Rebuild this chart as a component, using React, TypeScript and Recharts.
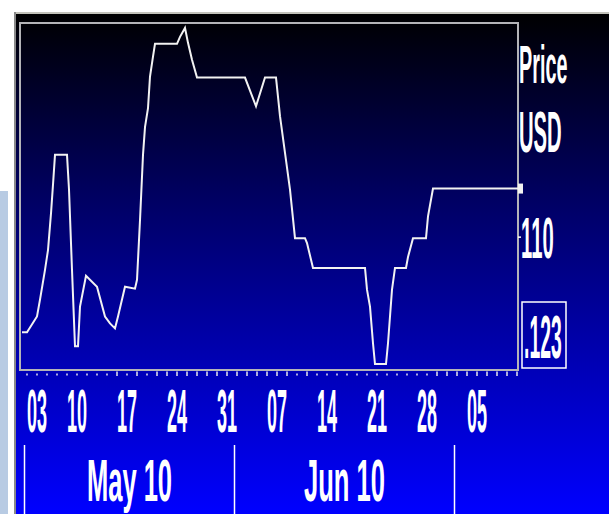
import { LineChart, Line, XAxis, YAxis, ReferenceArea } from 'recharts';

// trading-session index (0 = Mon 03 May) and price
const session = [
  -0.5, 0, 1.0, 1.3, 1.8, 2.1, 2.4, 2.6, 2.8, 4.0, 4.2, 4.5, 4.8, 5.1, 5.3, 5.9, 7.0, 7.8, 8.3, 8.8,
  9.1, 9.8, 10.8, 11.0, 11.3, 11.6, 11.8, 12.1, 12.3, 12.6, 12.8, 15.0, 15.3, 15.8, 16.1, 16.5, 17.0,
  21.8, 22.9, 23.8, 24.9, 25.3, 25.8, 26.3, 26.8, 27.8, 28.0, 28.6, 33.8, 34.0, 34.3, 34.6, 34.8, 35.9,
  36.1, 36.5, 36.8, 37.9, 38.1, 38.6, 39.9, 40.1, 40.6, 49.1,
];
const price = [
  100.4, 100.4, 102.0, 103.7, 106.7, 108.7, 112.4, 115.3, 118.3, 118.3, 114.8, 106.7, 99.0, 99.0, 103.0,
  106.1, 105.0, 102.0, 101.3, 100.8, 102.0, 105.0, 104.8, 105.7, 111.7, 118.3, 121.1, 123.0, 126.2, 128.2,
  129.5, 129.5, 130.2, 131.1, 129.6, 127.9, 126.1, 126.1, 123.2, 126.1, 126.1, 122.2, 118.5, 114.8, 109.9,
  109.9, 109.4, 106.9, 106.9, 104.7, 103.0, 99.3, 97.2, 97.2, 99.3, 104.7, 106.9, 106.9, 108.0, 109.9,
  109.9, 112.1, 114.9, 114.9,
];

const weekLabels = ['03', '10', '17', '24', '31', '07', '14', '21', '28', '05'];
const weekStarts = [0, 5, 10, 15, 20, 25, 30, 35, 40, 45];
const monthLabels = ['May 10', 'Jun 10'];
const monthStarts = [0, 21, 43];
// d = dot mark, b = bar mark, one per session
const dayMarks = 'dddddddddbdbdbbbbbbbbbbbbbbdbddddddddddddbbbbbbbbb';

const priceTicks = [110];
const priceCaption = ['Price', 'USD'];
const lastPriceLabel = '.123';

const xDomain = [-0.7, 49.1];
const yDomain = [96.6, 131.6];

const data = session.map((t, i) => ({ t, price: price[i] }));
const separators = monthStarts.map((m) => m - 0.25);
const monthCenters = monthLabels.map((_, i) => (separators[i] + separators[i + 1]) / 2);
const dayTicks = Array.from(dayMarks).map((_, i) => i);
const xTicks = [...dayTicks, ...separators, ...monthCenters].sort((a, b) => a - b);

const FONT = "'Liberation Sans', Arial, sans-serif";

function Stretch({ x, y, sx, sy, anchor = 'middle', children }: any) {
  return (
    <text
      transform={`translate(${x},${y}) scale(${sx},${sy})`}
      textAnchor={anchor}
      fill="#ffffff"
      fontFamily={FONT}
      fontSize={22}
      fontWeight={700}
    >
      {children}
    </text>
  );
}

function XTick({ x, y, payload }: any) {
  const v = payload.value;
  const s = separators.indexOf(v);
  if (s >= 0) {
    return <line x1={x} x2={x} y1={y + 75} y2={y + 150} stroke="#ffffff" strokeWidth={1.5} />;
  }
  const m = monthCenters.indexOf(v);
  if (m >= 0) {
    return (
      <Stretch x={x} y={y + 131} sx={1.16} sy={2.7}>
        {monthLabels[m]}
      </Stretch>
    );
  }
  const bar = dayMarks[v] === 'b';
  const w = weekStarts.indexOf(v);
  return (
    <g>
      <rect x={x - 0.75} y={y + (bar ? 1.5 : 3.5)} width={1.5} height={bar ? 4.5 : 2} fill="#e6e6f0" />
      {w >= 0 && (
        <Stretch x={x} y={y + 62} sx={0.82} sy={2.77} anchor={w === 0 ? 'start' : 'middle'}>
          {weekLabels[w]}
        </Stretch>
      )}
    </g>
  );
}

function YTick({ x, y, payload }: any) {
  return (
    <g>
      <line x1={x} x2={x + 3} y1={y} y2={y} stroke="#ffffff" strokeWidth={1.5} />
      <Stretch x={x + 3} y={y + 21} sx={0.92} sy={2.58} anchor="start">
        {payload.value}
      </Stretch>
    </g>
  );
}

function PriceCaption(props: any) {
  const vb = props.viewBox || { x: 504, y: 11 };
  const { x, y } = vb;
  return (
    <g>
      <Stretch x={x + 1} y={y + 60} sx={0.9} sy={2.4} anchor="start">
        {priceCaption[0]}
      </Stretch>
      <Stretch x={x + 1} y={y + 129} sx={0.92} sy={2.65} anchor="start">
        {priceCaption[1]}
      </Stretch>
      <rect x={x + 4} y={y + 279} width={44} height={66} fill="none" stroke="#ffffff" strokeWidth={1.5} />
      <Stretch x={x + 6} y={y + 335} sx={0.88} sy={2.8} anchor="start">
        {lastPriceLabel}
      </Stretch>
    </g>
  );
}

export default function App() {
  return (
    <div style={{ position: 'absolute', left: 0, top: 0, width: 609, height: 514, background: '#ffffff', overflow: 'hidden' }}>
      <div style={{ position: 'absolute', left: 0, top: 191, width: 8, height: 323, background: '#b8cbe3' }} />
      <div
        style={{
          position: 'absolute',
          left: 14,
          top: 12,
          width: 595,
          height: 502,
          background: 'linear-gradient(to bottom, #000000 0%, #00006a 40%, #0000ff 100%)',
        }}
      >
        <div style={{ position: 'absolute', left: 0, top: 0, width: 595, height: 2, background: '#c2c2ba' }} />
        <div style={{ position: 'absolute', left: 0, top: 0, width: 2, height: 502, background: '#8a8a8a' }} />
        <div style={{ position: 'absolute', left: 0, top: 0 }}>
          <LineChart width={595} height={502} data={data} margin={{ top: 11, right: 0, bottom: 0, left: 6 }}>
            <XAxis
              dataKey="t"
              type="number"
              domain={xDomain}
              ticks={xTicks}
              interval={0}
              height={144}
              axisLine={false}
              tickLine={false}
              tickSize={0}
              tickMargin={0}
              tick={<XTick />}
            />
            <YAxis
              orientation="right"
              type="number"
              domain={yDomain}
              ticks={priceTicks}
              width={91}
              axisLine={false}
              tickLine={false}
              tickSize={0}
              tickMargin={0}
              tick={<YTick />}
              label={{ content: (p: any) => <PriceCaption {...p} /> }}
            />
            <ReferenceArea
              x1={xDomain[0]}
              x2={xDomain[1]}
              y1={yDomain[0]}
              y2={yDomain[1]}
              fill="none"
              stroke="#b4b4b8"
              strokeWidth={2}
              ifOverflow="visible"
            />
            <Line
              type="linear"
              dataKey="price"
              stroke="#f2f2f2"
              strokeWidth={2}
              isAnimationActive={false}
              activeDot={false}
              dot={(p: any) =>
                p.index === data.length - 1 ? (
                  <rect key="last" x={p.cx} y={p.cy - 5} width={5} height={10} fill="#f2f2f2" />
                ) : (
                  <g key={p.index} />
                )
              }
            />
          </LineChart>
        </div>
      </div>
    </div>
  );
}
